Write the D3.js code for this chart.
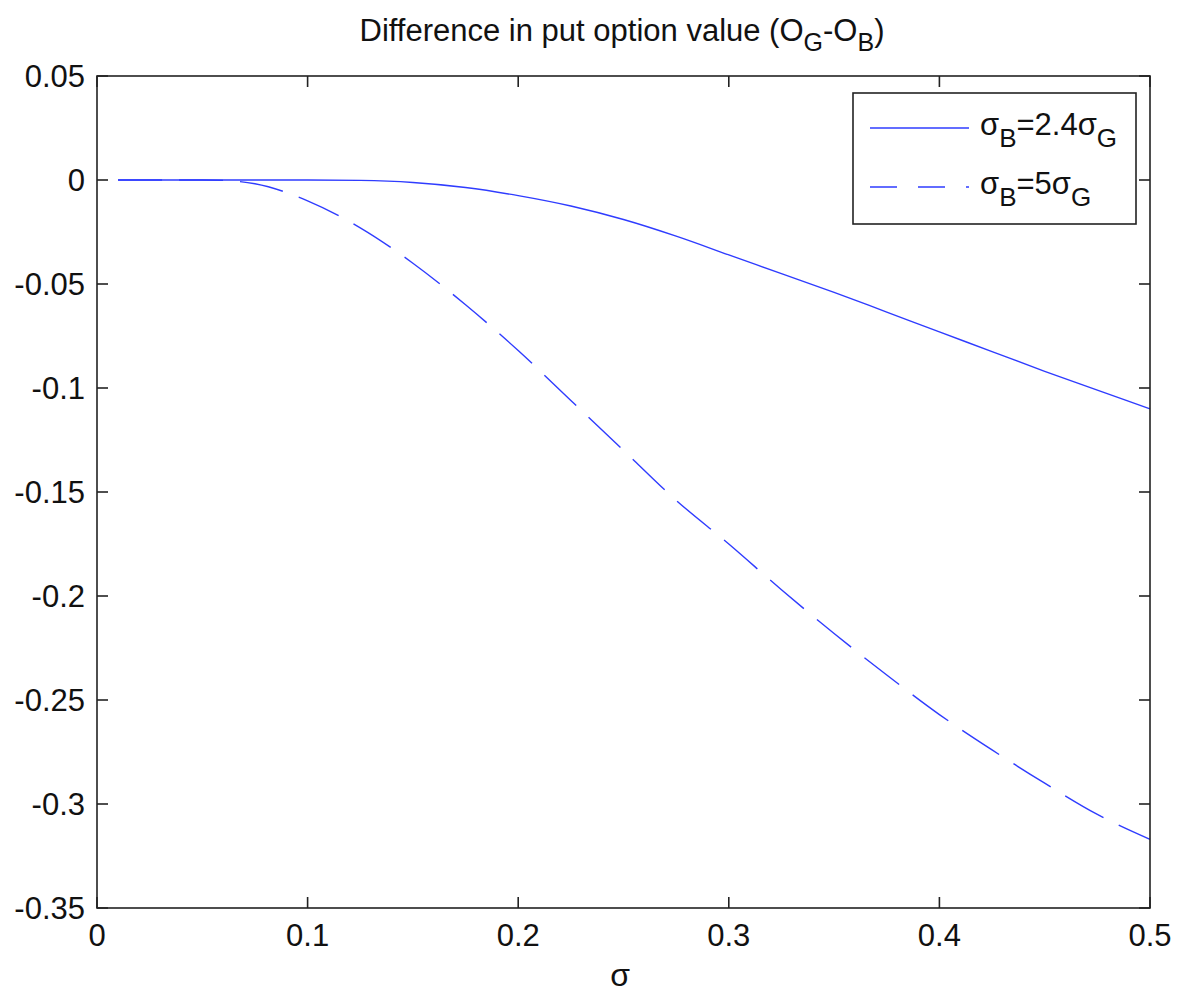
<!DOCTYPE html>
<html lang="en">
<head>
    <meta charset="UTF-8">
    <title>Difference in put option value</title>
    <script src="https://d3js.org/d3.v7.min.js"></script>
    <style>
        body { margin: 0; background: #fff; }
        text { font-family: "Liberation Sans", Arial, sans-serif; fill: #111; }
        .tick-label { font-size: 31px; }
        .frame { fill: none; stroke: #222; stroke-width: 1.6; }
        .tick { stroke: #222; stroke-width: 1.6; }
        .curve { fill: none; stroke: #2f3cff; stroke-width: 1.4; }
    </style>
</head>
<body>
<div id="chart"></div>
<script>
    // sigma values
    const sigma = [0.01, 0.025, 0.05, 0.06, 0.075, 0.1, 0.125, 0.15, 0.175, 0.2, 0.225, 0.25,
        0.275, 0.3, 0.325, 0.35, 0.375, 0.4, 0.425, 0.45, 0.475, 0.5];
    // sigma_B = 2.4 sigma_G
    const diff24 = [0, 0, 0, 0, 0, 0, -0.0002, -0.0012, -0.0036, -0.0075, -0.0125, -0.019,
        -0.027, -0.036, -0.045, -0.054, -0.0635, -0.073, -0.0825, -0.092, -0.101, -0.110];
    // sigma_B = 5 sigma_G
    const diff5 = [0, 0, 0, -0.0002, -0.0018, -0.0100, -0.023, -0.040, -0.060, -0.082, -0.106, -0.130,
        -0.154, -0.175, -0.197, -0.218, -0.238, -0.257, -0.274, -0.290, -0.305, -0.317];

    const xTicks = [0, 0.1, 0.2, 0.3, 0.4, 0.5];
    const yTicks = [0.05, 0, -0.05, -0.1, -0.15, -0.2, -0.25, -0.3, -0.35];

    const W = 1182, H = 995;
    const margin = { top: 76, right: 32, bottom: 87, left: 97 };
    const width = W - margin.left - margin.right;
    const height = H - margin.top - margin.bottom;

    const svg = d3.select("#chart").append("svg")
        .attr("width", W)
        .attr("height", H);

    const g = svg.append("g")
        .attr("transform", `translate(${margin.left},${margin.top})`);

    const x = d3.scaleLinear().domain([0, 0.5]).range([0, width]);
    const y = d3.scaleLinear().domain([-0.35, 0.05]).range([height, 0]);

    const tickLen = 11;

    // inward ticks on all four sides (matlab style)
    xTicks.forEach(t => {
        g.append("line").attr("class", "tick")
            .attr("x1", x(t)).attr("x2", x(t)).attr("y1", height).attr("y2", height - tickLen);
        g.append("line").attr("class", "tick")
            .attr("x1", x(t)).attr("x2", x(t)).attr("y1", 0).attr("y2", tickLen);
        g.append("text").attr("class", "tick-label")
            .attr("x", x(t)).attr("y", height + 38)
            .attr("text-anchor", "middle")
            .text(String(t));
    });
    yTicks.forEach(t => {
        g.append("line").attr("class", "tick")
            .attr("x1", 0).attr("x2", tickLen).attr("y1", y(t)).attr("y2", y(t));
        g.append("line").attr("class", "tick")
            .attr("x1", width).attr("x2", width - tickLen).attr("y1", y(t)).attr("y2", y(t));
        g.append("text").attr("class", "tick-label")
            .attr("x", -12).attr("y", y(t) + 11)
            .attr("text-anchor", "end")
            .text(String(t));
    });

    const line = d3.line()
        .x((d, i) => x(sigma[i]))
        .y(d => y(d))
        .curve(d3.curveMonotoneX);

    g.append("path").datum(diff24).attr("class", "curve").attr("d", line);
    g.append("path").datum(diff5).attr("class", "curve")
        .attr("stroke-dasharray", "44,17")
        .attr("d", line);

    g.append("rect").attr("class", "frame")
        .attr("x", 0).attr("y", 0).attr("width", width).attr("height", height);

    // title
    const title = svg.append("text")
        .attr("x", 622).attr("y", 41)
        .attr("text-anchor", "middle")
        .style("font-size", "31px");
    title.append("tspan").text("Difference in put option value (O");
    title.append("tspan").attr("dy", 10).style("font-size", "25px").text("G");
    title.append("tspan").attr("dy", -10).text("-O");
    title.append("tspan").attr("dy", 10).style("font-size", "25px").text("B");
    title.append("tspan").attr("dy", -10).text(")");

    // x label
    svg.append("text")
        .attr("x", 620).attr("y", 986)
        .attr("text-anchor", "middle")
        .style("font-size", "32px")
        .text("σ");

    // legend
    const legend = svg.append("g").attr("transform", "translate(853,93)");
    legend.append("rect")
        .attr("width", 283).attr("height", 131)
        .attr("fill", "#fff").attr("stroke", "#222").attr("stroke-width", 1.6);

    const legendItems = [
        { base: "2.4", dash: null, y: 35 },
        { base: "5", dash: "27,21", y: 94 }
    ];
    legendItems.forEach(it => {
        legend.append("line").attr("class", "curve")
            .attr("x1", 17).attr("x2", 116).attr("y1", it.y).attr("y2", it.y)
            .attr("stroke-dasharray", it.dash);
        const t = legend.append("text")
            .attr("x", 127).attr("y", it.y + 7)
            .style("font-size", "31px");
        t.append("tspan").text("σ");
        t.append("tspan").attr("dy", 12).style("font-size", "26px").text("B");
        t.append("tspan").attr("dy", -12).text("=" + it.base + "σ");
        t.append("tspan").attr("dy", 12).style("font-size", "26px").text("G");
    });
</script>
</body>
</html>
